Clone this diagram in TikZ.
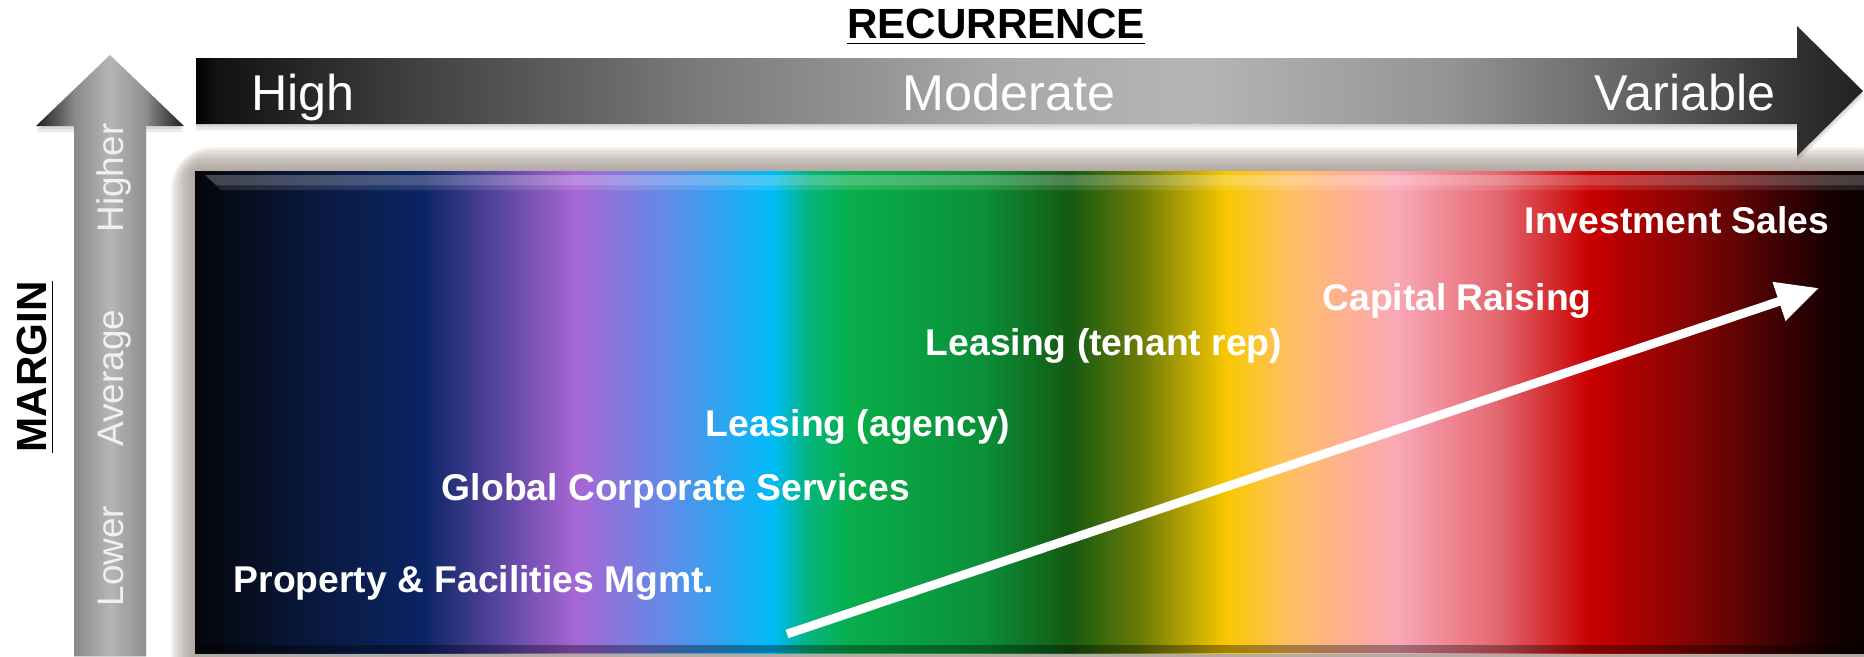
\documentclass[tikz,border=0pt]{standalone}
\usepackage{fontspec}
\setmainfont{Liberation Sans}
\usetikzlibrary{arrows.meta}

% spectrum colours, left to right
\definecolor{sp00}{HTML}{05060C}
\definecolor{sp01}{HTML}{0A1E4C}
\definecolor{sp02}{HTML}{0A2463}
\definecolor{sp03}{HTML}{4A3F96}
\definecolor{sp04}{HTML}{A866D4}
\definecolor{sp05}{HTML}{5E8CE8}
\definecolor{sp06}{HTML}{00BBF9}
\definecolor{sp07}{HTML}{04B57A}
\definecolor{sp08}{HTML}{08AE4A}
\definecolor{sp09}{HTML}{0A8F38}
\definecolor{sp10}{HTML}{145A12}
\definecolor{sp11}{HTML}{6A7A06}
\definecolor{sp12}{HTML}{F8C800}
\definecolor{sp13}{HTML}{FFC060}
\definecolor{sp14}{HTML}{FFB090}
\definecolor{sp15}{HTML}{F9A8B6}
\definecolor{sp16}{HTML}{E46870}
\definecolor{sp17}{HTML}{C80000}
\definecolor{sp18}{HTML}{7A0404}
\definecolor{sp19}{HTML}{180002}
\definecolor{sp20}{HTML}{0A0000}
% greys
\definecolor{glow}{HTML}{968A80}
\definecolor{marginwhite}{HTML}{F0F0F0}

\pgfdeclarehorizontalshading{spectrum}{100bp}{%
  color(0bp)=(sp00); color(25bp)=(sp00); color(29.7bp)=(sp01);
  color(31.8bp)=(sp02); color(33.7bp)=(sp03); color(36.4bp)=(sp04);
  color(39.2bp)=(sp05); color(42.3bp)=(sp06); color(43.4bp)=(sp07);
  color(44.7bp)=(sp08); color(48.6bp)=(sp09); color(51.2bp)=(sp10);
  color(53.3bp)=(sp11); color(55.9bp)=(sp12); color(57.7bp)=(sp13);
  color(59.4bp)=(sp14); color(61bp)=(sp15); color(64bp)=(sp16);
  color(66.8bp)=(sp17); color(70.2bp)=(sp18); color(73.9bp)=(sp19);
  color(75bp)=(sp20); color(100bp)=(sp20)}

\pgfdeclarehorizontalshading{greybar}{100bp}{%
  color(0bp)=(black); color(25bp)=(black); color(25.6bp)=(black!93);
  color(31.1bp)=(black!76); color(40.1bp)=(black!52); color(49.1bp)=(black!34);
  color(55.1bp)=(black!29); color(62.6bp)=(black!42); color(68.6bp)=(black!63);
  color(73bp)=(black!81); color(75bp)=(black!87); color(100bp)=(black!87)}

\pgfdeclarehorizontalshading{greyshaft}{100bp}{%
  color(0bp)=(black!88); color(25bp)=(black!88); color(35bp)=(black!56);
  color(38bp)=(black!46); color(50bp)=(black!29); color(62bp)=(black!44);
  color(65bp)=(black!56); color(75bp)=(black!88); color(100bp)=(black!88)}

\tikzset{
  service/.style={text=white, font=\fontsize{10.6}{12}\selectfont\bfseries, anchor=base},
  barlabel/.style={text=white, font=\fontsize{14.3}{16}\selectfont, anchor=base},
  marginlabel/.style={text=marginwhite, font=\fontsize{10.5}{12}\selectfont, rotate=90, anchor=base},
  heading/.style={font=\fontsize{12}{14}\selectfont\bfseries, anchor=base},
  trend/.style={white, line width=2.5pt, -{Triangle[length=12pt,width=11pt]}}
}

\begin{document}
\begin{tikzpicture}[x=0.01cm, y=-0.01cm]
	\useasboundingbox (0,0) rectangle (1864,656);

	% soft glow round the spectrum
	\foreach \d in {1,...,12}
		\fill[glow, opacity=0.1, rounded corners=\d pt] (195-2*\d, 171-2*\d) rectangle (1900, 700);

	% the spectrum itself
	\shade[shading=spectrum] (195,171) rectangle (1864,653);
	\fill[white, opacity=0.25] (205,175) -- (1864,175) -- (1864,185) -- (216,185) -- cycle;
	\fill[white, opacity=0.12] (216,185) -- (1864,185) -- (1864,190) -- (221,190) -- cycle;
	\fill[black, opacity=0.35] (195,645) rectangle (1864,653);

	% recurrence arrow
	\foreach \s in {3,6}
		\fill[black, opacity=0.08, shift={(0,\s)}] (196,58) -- (1797,58) -- (1797,26) -- (1863,91)
			-- (1797,156) -- (1797,124) -- (196,124) -- cycle;
	\shade[shading=greybar] (196,58) -- (1797,58) -- (1797,26) -- (1863,91)
		-- (1797,156) -- (1797,124) -- (196,124) -- cycle;

	% margin arrow
	\foreach \s in {3,6}
		\fill[black, opacity=0.08, shift={(0,\s)}] (74,656) -- (74,126) -- (36,126) -- (110,55)
			-- (184,126) -- (146,126) -- (146,656) -- cycle;
	\shade[shading=greyshaft] (74,656) -- (74,126) -- (36,126) -- (110,55)
		-- (184,126) -- (146,126) -- (146,656) -- cycle;

	% axis titles
	\node[heading] (recurrence) at (996,38) {\underline{RECURRENCE}};
	\node[heading, rotate=90] (margin) at (47,367) {\underline{MARGIN}};

	\node[barlabel] (high) at (303,110) {High};
	\node[barlabel] (moderate) at (1009,110) {Moderate};
	\node[barlabel] (variable) at (1685,110) {Variable};

	\node[marginlabel] (lower) at (123,556) {Lower};
	\node[marginlabel] (average) at (123,378) {Average};
	\node[marginlabel] (higher) at (123,178) {Higher};

	% services
	\node[service] (property) at (474,592) {Property \& Facilities Mgmt.};
	\node[service] (corporate) at (676,500) {Global Corporate Services};
	\node[service] (agency) at (858,436) {Leasing (agency)};
	\node[service] (tenantrep) at (1104,355) {Leasing (tenant rep)};
	\node[service] (capital) at (1457,310) {Capital Raising};
	\node[service] (invest) at (1677,233) {Investment Sales};

	% trend
	\coordinate (trendstart) at (787,634);
	\coordinate (trendend) at (1819,288);
	\draw[trend] (trendstart) -- (trendend);
\end{tikzpicture}
\end{document}
